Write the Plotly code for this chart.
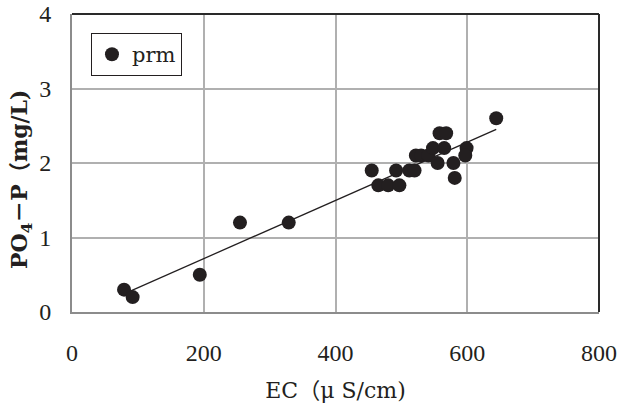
import numpy as np
import plotly.graph_objects as go

ec = [79, 92, 194, 255, 329, 455, 465, 480, 492, 497, 512, 520, 522, 530,
      541, 548, 558, 568, 565, 555, 579, 581, 599, 597, 644]
po4 = [0.3, 0.2, 0.5, 1.2, 1.2, 1.9, 1.7, 1.7, 1.9, 1.7, 1.9, 1.9, 2.1, 2.1,
       2.1, 2.2, 2.4, 2.4, 2.2, 2.0, 2.0, 1.8, 2.2, 2.1, 2.6]
x_ticks = [0, 200, 400, 600, 800]
y_ticks = [0, 1, 2, 3, 4]

slope, intercept = np.polyfit(ec, po4, 1)
fit_x = [min(ec), max(ec)]
fit_y = [slope * v + intercept for v in fit_x]

num_font = "Liberation Serif"
txt_font = "DejaVu Serif, Noto Sans CJK JP"
fig = go.Figure()
fig.add_trace(go.Scatter(x=fit_x, y=fit_y, mode="lines",
                         line=dict(color="#231f20", width=1.3), showlegend=False))
fig.add_trace(go.Scatter(x=ec, y=po4, mode="markers", name="prm",
                         marker=dict(color="#231f20", size=14)))

frame = dict(type="line", xref="paper", yref="paper",
             line=dict(color="#2a2a2a", width=2))
fig.update_layout(
    width=619, height=406,
    margin=dict(l=72, r=20, t=14, b=94),
    paper_bgcolor="white", plot_bgcolor="white",
    font=dict(family=num_font, size=24, color="#231f20"),
    legend=dict(x=0.036, y=0.936, xanchor="left", yanchor="top",
                bordercolor="#231f20", borderwidth=1, bgcolor="white",
                font=dict(family=txt_font, size=21)),
    xaxis=dict(range=[0, 800], tickvals=x_ticks, showgrid=True,
               gridcolor="#b0b0b0", gridwidth=1.5, showline=True, mirror=False,
               linecolor="#8c8c8c", linewidth=2, zeroline=False, ticks="",
               ticklabelstandoff=18, automargin=False, ticklabeloverflow="allow",
               title=dict(text="EC（μ S/cm)", font=dict(family=txt_font, size=22), standoff=18)),
    yaxis=dict(range=[0, 4], tickvals=y_ticks, showgrid=True,
               gridcolor="#b0b0b0", gridwidth=1.5, showline=True, mirror=False,
               linecolor="#8c8c8c", linewidth=2, zeroline=False, ticks="",
               ticklabelstandoff=14, automargin=False),
    shapes=[dict(frame, x0=0, x1=1, y0=1, y1=1),
            dict(frame, x0=1, x1=1, y0=0, y1=1)],
    annotations=[dict(text="<b>PO<sub>4</sub>－P（mg/L)</b>", xref="paper", yref="paper",
                      x=0, xshift=-51, xanchor="center", y=0.446, yanchor="middle",
                      textangle=-90, showarrow=False,
                      font=dict(family=txt_font, size=22, color="#231f20"))],
)
fig.write_html("out.html", config={"displayModeBar": False},
               post_script="document.body.style.margin='0';")
